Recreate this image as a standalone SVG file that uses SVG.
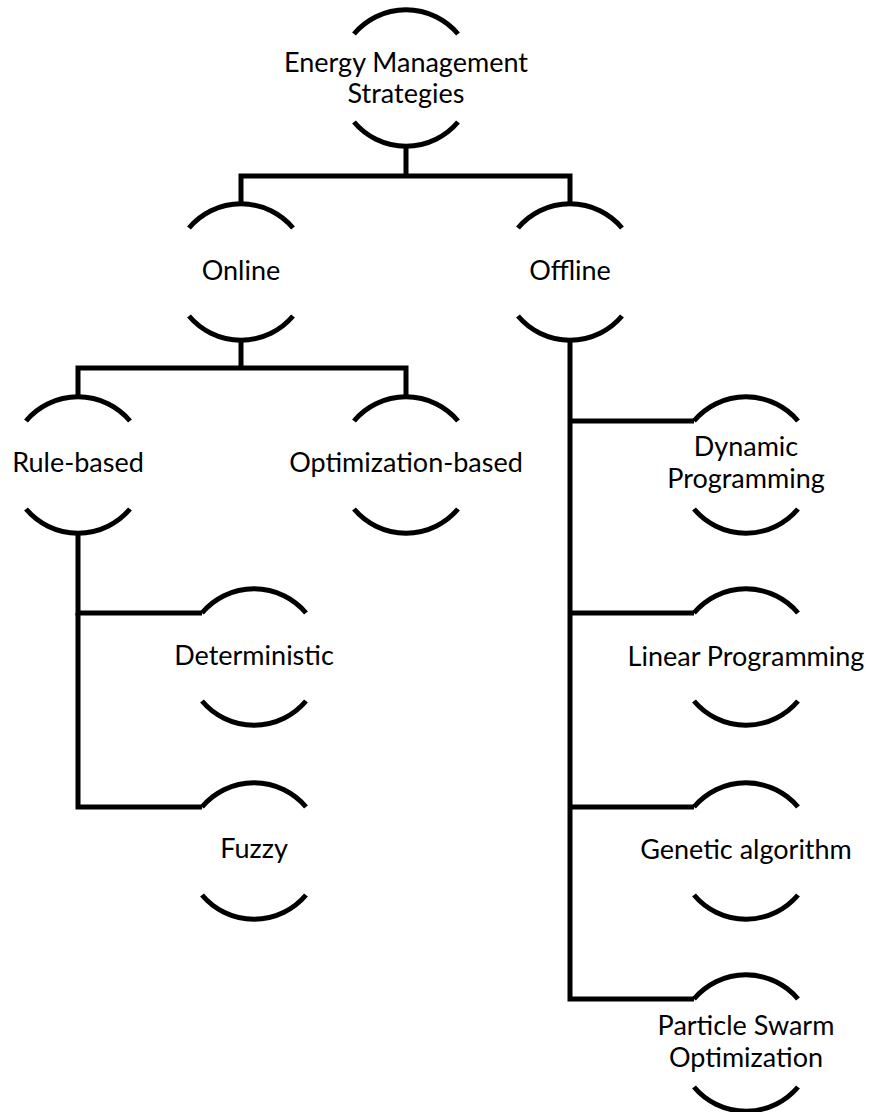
<svg xmlns="http://www.w3.org/2000/svg" width="872" height="1112" viewBox="0 0 872 1112">
<style>
.arc{fill:none;stroke:#000;stroke-width:5;}
.con{fill:none;stroke:#000;stroke-width:5;stroke-linejoin:miter;}
text{font-family:Lato,"Liberation Sans",sans-serif;font-size:27px;fill:#000;text-anchor:middle;}
</style>
<defs>
<g id="node">
<path class="arc" d="M-52,-44 A68,68 0 0 1 52,-44"/>
<path class="arc" d="M-52,44 A68,68 0 0 0 52,44"/>
</g>
</defs>
<rect width="872" height="1112" fill="#fff"/>
<g id="connectors">
<path class="con" d="M406,146 V176"/>
<path class="con" d="M241,204 V176 H570 V204"/>
<path class="con" d="M241,340 V368"/>
<path class="con" d="M78,397 V368 H406 V397"/>
<path class="con" d="M202,613 H78 V533"/>
<path class="con" d="M78,613 V807 H202"/>
<path class="con" d="M570,340 V999 H694"/>
<path class="con" d="M570,421 H694"/>
<path class="con" d="M570,613 H694"/>
<path class="con" d="M570,807 H694"/>
</g>
<g id="n-ems"><use href="#node" x="406" y="78"/><text x="406" y="72">Energy Management</text><text x="406" y="103">Strategies</text></g>
<g id="n-online"><use href="#node" x="241" y="272"/><text x="241" y="280">Online</text></g>
<g id="n-offline"><use href="#node" x="570" y="272"/><text x="570" y="280">Offline</text></g>
<g id="n-rule"><use href="#node" x="78" y="465"/><text x="78" y="472">Rule-based</text></g>
<g id="n-opt"><use href="#node" x="406" y="465"/><text x="406" y="472">Optimization-based</text></g>
<g id="n-det"><use href="#node" x="254" y="657"/><text x="254" y="665">Deterministic</text></g>
<g id="n-fuzzy"><use href="#node" x="254" y="851"/><text x="254" y="858">Fuzzy</text></g>
<g id="n-dp"><use href="#node" x="746" y="465"/><text x="746" y="456">Dynamic</text><text x="746" y="488">Programming</text></g>
<g id="n-lp"><use href="#node" x="746" y="657"/><text x="746" y="666">Linear Programming</text></g>
<g id="n-ga"><use href="#node" x="746" y="851"/><text x="746" y="859">Genetic algorithm</text></g>
<g id="n-pso"><use href="#node" x="746" y="1043"/><text x="746" y="1035">Particle Swarm</text><text x="746" y="1067">Optimization</text></g>
</svg>
